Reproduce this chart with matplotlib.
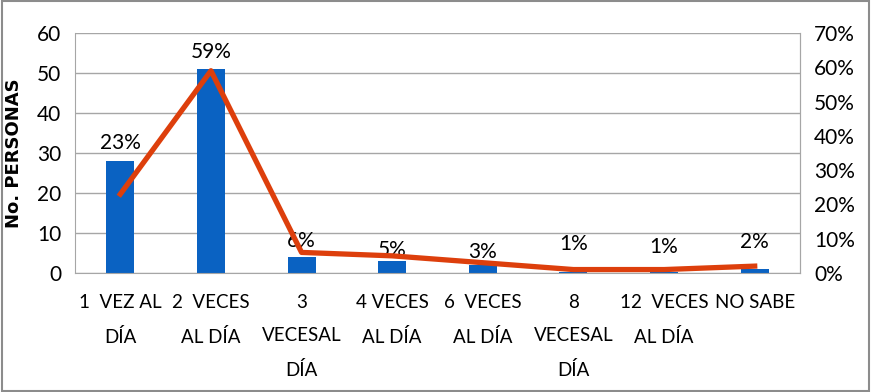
import numpy as np
import matplotlib.pyplot as plt
from matplotlib.patches import Rectangle

plt.rcParams['font.family'] = ['Lato', 'DejaVu Sans']

categories = ['1  VEZ AL\nDÍA', '2  VECES\nAL DÍA', '3\nVECESAL\nDÍA', '4 VECES\nAL DÍA',
              '6  VECES\nAL DÍA', '8\nVECESAL\nDÍA', '12  VECES\nAL DÍA', 'NO SABE']
personas = [28, 51, 4, 3, 2, 0.3, 0.3, 1]
porcentaje = [23, 59, 6, 5, 3, 1, 1, 2]
labels = ['23%', '59%', '6%', '5%', '3%', '1%', '1%', '2%']
label_gap = [8, 7, 6, 1, 3, 18, 15, 17]  # px above bar top

blue = '#0A62C2'
red = '#DD3F0C'
grid = '#A6A6A6'
fs = 15

fig = plt.figure(figsize=(8.71, 3.92), dpi=100)
ax = fig.add_axes([0.0861, 0.3036, 0.8324, 0.6122])
x = np.arange(len(categories))

ax.bar(x, personas, width=0.31, color=blue, zorder=2)
ax.set_ylim(0, 60)
ax.set_xlim(-0.5, len(categories) - 0.5)
ax.set_yticks(range(0, 61, 10))
ax.yaxis.grid(True, color=grid, lw=1)
ax.set_axisbelow(True)
ax.tick_params(length=0, labelsize=fs, colors='black')
ax.tick_params(axis='y', pad=10)
ax.tick_params(axis='x', pad=15)
ax.set_xticks(x)
ax.set_xticklabels(categories, fontsize=13.5, linespacing=2.15)
ax.spines['top'].set_visible(False)
for s in ['left', 'right', 'bottom']:
    ax.spines[s].set_color(grid)
ax.set_ylabel('No. PERSONAS', fontsize=13, fontweight='bold', family=['DejaVu Sans'], labelpad=10)

for xi, v, lab, g in zip(x, personas, labels, label_gap):
    ax.annotate(lab, (xi, v), xytext=(0, g * 0.72), textcoords='offset points',
                ha='center', va='bottom', fontsize=fs)

ax2 = ax.twinx()
ax2.plot(x, porcentaje, color=red, lw=3.8, zorder=3)
ax2.set_ylim(0, 70)
ax2.set_yticks(range(0, 71, 10))
ax2.set_yticklabels([f'{v}%' for v in range(0, 71, 10)])
ax2.tick_params(length=0, labelsize=fs, pad=10)
for s in ['top', 'left', 'bottom']:
    ax2.spines[s].set_visible(False)
ax2.spines['right'].set_color(grid)

fig.patches.append(Rectangle((0.002, 0.003), 0.996, 0.994, transform=fig.transFigure,
                             fill=False, edgecolor='#8C8C8C', lw=1.5))

fig.savefig('out.png', dpi=100)
